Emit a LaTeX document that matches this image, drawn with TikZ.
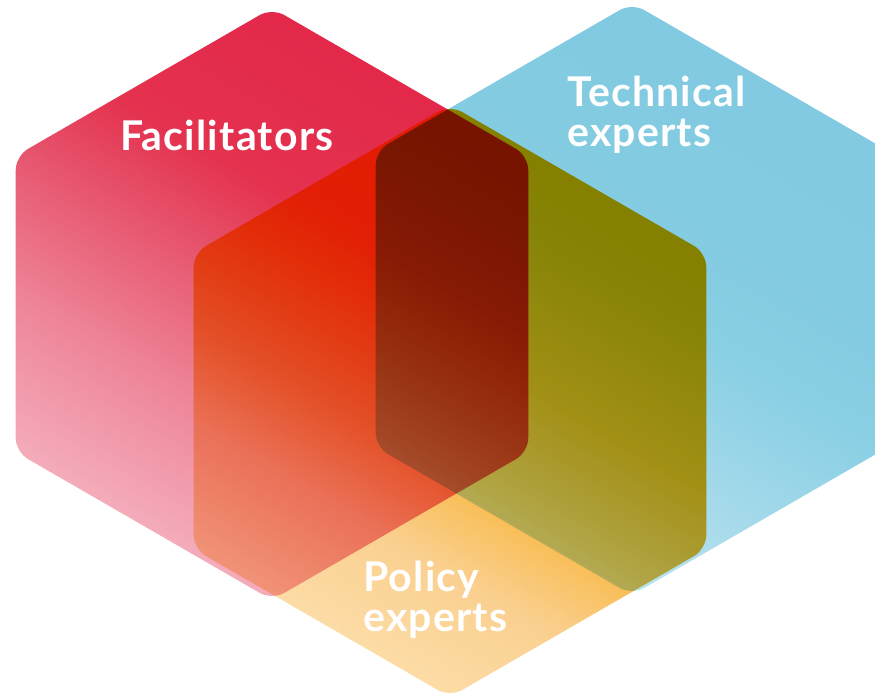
\documentclass[tikz,border=0pt]{standalone}
\usepackage{fontspec}
\setmainfont{Lato}
% red (Facilitators)
\definecolor{rA}{HTML}{F4ADBB}
\definecolor{rB}{HTML}{EE8498}
\definecolor{rC}{HTML}{E75870}
\definecolor{rD}{HTML}{E4324F}
\definecolor{rE}{HTML}{E3284A}
% blue (Technical experts)
\definecolor{bA}{HTML}{BAE5F1}
\definecolor{bB}{HTML}{A8DBEB}
\definecolor{bC}{HTML}{89CFE4}
\definecolor{bD}{HTML}{83CBE1}
\definecolor{bE}{HTML}{82CAE1}
% orange (Policy experts)
\definecolor{oA}{HTML}{FCDCA6}
\definecolor{oB}{HTML}{FAD090}
\definecolor{oC}{HTML}{F8BA4C}
\definecolor{oD}{HTML}{FCA918}
\definecolor{oE}{HTML}{FFA000}
\pgfdeclareverticalshading{redsh}{100bp}{color(0bp)=(rA); color(25bp)=(rA); color(38.5bp)=(rB); color(50bp)=(rC); color(59.6bp)=(rD); color(75bp)=(rE); color(100bp)=(rE)}
\pgfdeclareverticalshading{bluesh}{100bp}{color(0bp)=(bA); color(25bp)=(bA); color(35.6bp)=(bB); color(50bp)=(bC); color(59.6bp)=(bD); color(75bp)=(bE); color(100bp)=(bE)}
\pgfdeclareverticalshading{orgsh}{100bp}{color(0bp)=(oA); color(25bp)=(oA); color(35.6bp)=(oB); color(44.2bp)=(oC); color(54.8bp)=(oD); color(75bp)=(oE); color(100bp)=(oE)}
\begin{document}
\begin{tikzpicture}[x=1pt,y=1pt,
  hexclip/.style={rounded corners=14pt},
  lbl/.style={text=white, font=\addfontfeatures{LetterSpace=3}\bfseries\fontsize{41}{40}\selectfont, inner sep=0pt, anchor=base west, align=left}]
\useasboundingbox (0,0) rectangle (875,698);
\begin{scope}
\clip (0,0) rectangle (875,698);
\begin{scope}[blend group=multiply]
% Facilitators (red), centre (272,394)
\begin{scope}
\clip[hexclip] (272,690) -- (528.3,542) -- (528.3,246) -- (272,98) -- (15.7,246) -- (15.7,542) -- cycle;
\shade[shading=redsh, transform canvas={rotate around={-30:(272,394)}}]
  (-58,134) rectangle (602,654);
\end{scope}
% Technical experts (blue), centre (632,399)
\begin{scope}
\clip[hexclip] (632,695) -- (888.3,547) -- (888.3,251) -- (632,103) -- (375.7,251) -- (375.7,547) -- cycle;
\shade[shading=bluesh, transform canvas={rotate around={-30:(632,399)}}]
  (302,139) rectangle (962,659);
\end{scope}
% Policy experts (orange), centre (450,297)
\begin{scope}
\clip[hexclip] (450,593) -- (706.3,445) -- (706.3,149) -- (450,1) -- (193.7,149) -- (193.7,445) -- cycle;
\shade[shading=orgsh, transform canvas={rotate around={-30:(450,297)}}]
  (120,37) rectangle (780,557);
\end{scope}
\end{scope}
\end{scope}
\node[lbl] (fac) at (120,547) {Facilitators};
\node[lbl] (tech) at (567,551) {Technical\\experts};
\node[lbl] (pol) at (363,66) {Policy\\experts};
\end{tikzpicture}
\end{document}
